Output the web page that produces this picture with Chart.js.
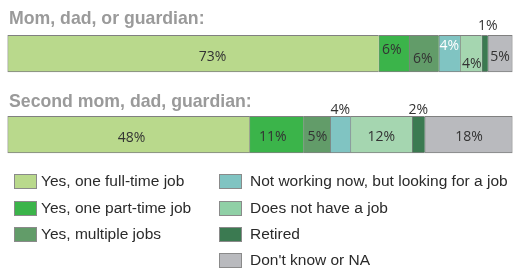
<!DOCTYPE html>
<html>
<head>
<meta charset="utf-8">
<script src="https://cdn.jsdelivr.net/npm/chart.js@4/dist/chart.umd.min.js"></script>
<style>
  html, body { margin: 0; padding: 0; background: #fff; }
  #wrap { position: relative; width: 525px; height: 268px; overflow: hidden; }
  #wrap canvas { position: absolute; left: 0; top: 0; }
  .title { position: absolute; left: 9px; font-family: "Liberation Sans", Arial, sans-serif; font-weight: bold; font-size: 17.7px; line-height: 1; color: #9a9a9a; white-space: nowrap; }
  .lg { position: absolute; font-family: "Liberation Sans", Arial, sans-serif; font-size: 15.5px; color: #2a2a2a; white-space: nowrap; line-height: 1; }
  .sw { position: absolute; width: 21px; height: 13px; border: 1px solid #8a8a8a; }
</style>
</head>
<body>
<div id="wrap">
  <canvas id="c" width="525" height="268"></canvas>
</div>
<script>
// ---- data ----
const categories = ['Mom, dad, or guardian:', 'Second mom, dad, guardian:'];
const statuses = [
  'Yes, one full-time job',
  'Yes, one part-time job',
  'Yes, multiple jobs',
  'Not working now, but looking for a job',
  'Does not have a job',
  'Retired',
  "Don't know or NA"
];
// segment widths (percent of bar)
const parentOne = [73.5, 6.0, 5.9, 4.2, 4.3, 1.2, 4.9];
const parentTwo = [47.9, 10.7, 5.3, 4.0, 12.2, 2.5, 17.4];
// printed labels
const parentOneLabels = ['73%', '6%', '6%', '4%', '4%', '1%', '5%'];
const parentTwoLabels = ['48%', '11%', '5%', '4%', '12%', '2%', '18%'];

// ---- styles ----
const barColors = ['#b9d98c', '#3bb44a', '#629c69', '#80c4c2', '#a5d6b0', '#3b7a51', '#b9babe'];
const legendColors = ['#b9d98c', '#3bb44a', '#629c69', '#80c4c2', '#90d0a6', '#3b7a51', '#b9babe'];
const labelOffsets = [
  [[19.5, 3], [-2, -4], [-1, 5], [0, -7.5], [1, 10], [3, -28], [0, 3.5]],
  [[3, 3], [-3.6, 2], [0.6, 2], [0, -24.5], [0, 2], [0, -24.5], [0.5, 2]]
];
const labelColors = [
  ['#333', '#333', '#333', '#ffffff', '#333', '#333', '#333'],
  ['#333', '#333', '#333', '#333', '#333', '#333', '#333']
];
const labelTexts = [parentOneLabels, parentTwoLabels];

const datasets = statuses.map((s, i) => ({
  label: s,
  data: [parentOne[i], parentTwo[i]],
  backgroundColor: barColors[i],
  borderColor: '#808080',
  borderWidth: { top: 1, bottom: 1, left: 1, right: i === statuses.length - 1 ? 1 : 0 },
  borderSkipped: false,
  barThickness: 36.5
}));

const segLabels = {
  id: 'segLabels',
  afterDatasetsDraw(chart) {
    const ctx = chart.ctx;
    ctx.save();
    ctx.font = '14px "Open Sans", sans-serif';
    ctx.textAlign = 'center';
    ctx.textBaseline = 'middle';
    chart.data.datasets.forEach((ds, i) => {
      const meta = chart.getDatasetMeta(i);
      meta.data.forEach((el, j) => {
        const cx = (el.x + el.base) / 2;
        const off = labelOffsets[j][i];
        ctx.fillStyle = labelColors[j][i];
        ctx.fillText(labelTexts[j][i], cx + off[0], el.y + off[1]);
      });
    });
    ctx.restore();
  }
};

new Chart(document.getElementById('c'), {
  type: 'bar',
  data: { labels: categories, datasets },
  options: {
    indexAxis: 'y',
    responsive: false,
    animation: false,
    devicePixelRatio: 1,
    layout: { padding: { left: 7.5, right: 12.5, top: 13.2, bottom: 92.8 } },
    scales: {
      x: { stacked: true, min: 0, max: 100, display: false },
      y: { stacked: true, display: false }
    },
    plugins: { legend: { display: false }, tooltip: { enabled: false } }
  },
  plugins: [segLabels]
});

// titles (HTML text)
const wrap = document.getElementById('wrap');
const titleTops = [10, 92.5];
categories.forEach((c, i) => {
  const d = document.createElement('div');
  d.className = 'title';
  d.style.top = titleTops[i] + 'px';
  d.textContent = c;
  wrap.appendChild(d);
});

// legend (two columns)
const legendLayout = [
  [14, 181.5, 41], [14, 208, 41], [14, 234.5, 41],
  [219, 181.5, 250], [219, 208, 250], [219, 234.5, 250], [219, 260.5, 250]
];
statuses.forEach((s, i) => {
  const [sx, cy, tx] = legendLayout[i];
  const sw = document.createElement('div');
  sw.className = 'sw';
  sw.style.left = sx + 'px';
  sw.style.top = (cy - 7.5) + 'px';
  sw.style.background = legendColors[i];
  wrap.appendChild(sw);
  const t = document.createElement('div');
  t.className = 'lg';
  t.style.left = tx + 'px';
  t.style.top = (cy - 8.3) + 'px';
  t.textContent = s;
  wrap.appendChild(t);
});
</script>
</body>
</html>
